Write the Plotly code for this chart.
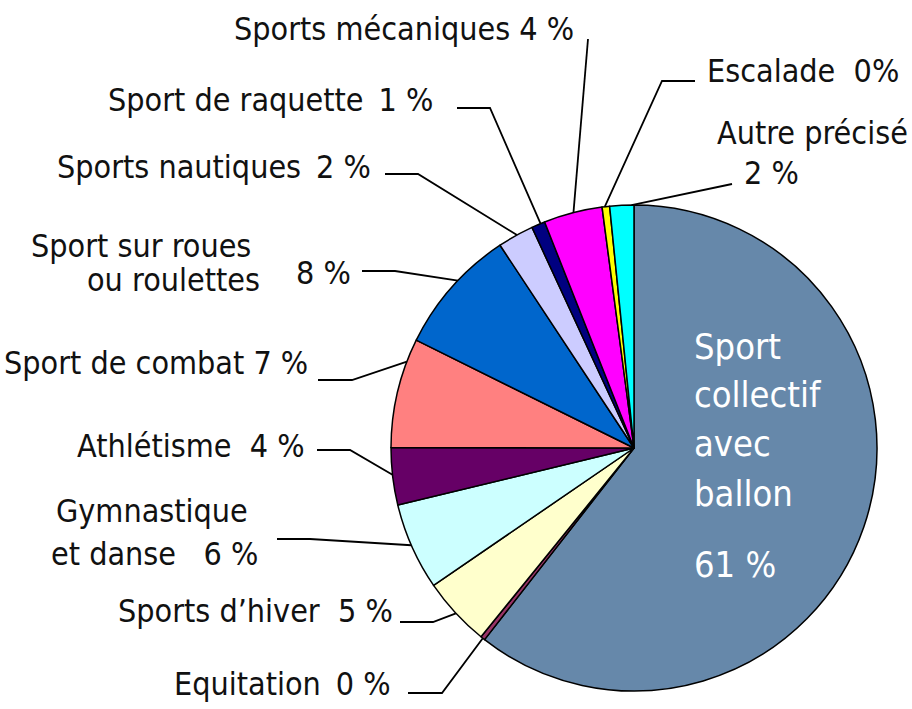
import math
import plotly.graph_objects as go

# ---------------- data ----------------
categories = ["Sport collectif avec ballon", "Equitation", "Sports d\u2019hiver",
              "Gymnastique et danse", "Athl\u00e9tisme", "Sport de combat",
              "Sport sur roues ou roulettes", "Sports nautiques", "Sport de raquette",
              "Sports m\u00e9caniques", "Escalade", "Autre pr\u00e9cis\u00e9"]
values = [60.6, 0.3, 4.6, 5.8, 3.8, 7.3, 8.4, 2.4, 0.9, 3.9, 0.5, 1.6]
colors = ["#6688AA", "#993366", "#FFFFCC", "#CCFFFF", "#660066", "#FF8080",
          "#0066CC", "#CCCCFF", "#000080", "#FF00FF", "#FFFF00", "#00FFFF"]

T = "\u2009"  # thin space
label_lines = [
    ["Sport", "collectif", "avec", "ballon"],
    ["Equitation" + T + " 0 %"],
    ["Sports d\u2019hiver\u00a0 5 %"],
    ["Gymnastique", "et danse\u00a0\u00a0 6 %"],
    ["Athl\u00e9tisme\u00a0 4 %"],
    ["Sport de combat 7 %"],
    ["Sport sur roues", "ou roulettes"],
    ["Sports nautiques" + T + " 2 %"],
    ["Sport de raquette" + T + " 1 %"],
    ["Sports m\u00e9caniques 4 %"],
    ["Escalade\u00a0 0%"],
    ["Autre pr\u00e9cis\u00e9", "2 %"],
]

# ---------------- layout constants (pixels) ----------------
W, H = 912, 709
CX, CY, R = 634, 448, 243
FONT = "DejaVu Sans Condensed, Liberation Sans Narrow, sans-serif"
FS = 32       # outside labels
FS_IN = 36    # text inside the big slice

label_pos = [
    [(692, 346, "left"), (692, 394, "left"), (692, 443, "left"), (692, 493, "left")],
    [(392, 684, "right")],
    [(395, 611, "right")],
    [(152, 511, "center"), (154, 554, "center")],
    [(307, 446, "right")],
    [(310, 363, "right")],
    [(253, 246, "right"), (262, 280, "right")],
    [(373, 167, "right")],
    [(435, 100, "right")],
    [(576, 29, "right")],
    [(705, 71, "left")],
    [(715, 133, "left"), (742, 173, "left")],
]
extra_text = [("8 %", 353, 273, "right", FS, "#111111"),
              ("61 %", 692, 564, "left", FS_IN, "white")]

leader_frac = [None, 0.5, 0.49, 0.52, 0.53, 0.79, 0.57, 0.54, 0.68, 0.51, 0.35, 0.9]
leader_path = [
    None,
    [(442, 693), (408, 693)],
    [(433, 622), (400, 622)],
    [(310, 539), (277, 539)],
    [(350, 450), (317, 450)],
    [(352, 380), (318, 380)],
    [(395, 271), (362, 271)],
    [(418, 174), (385, 174)],
    [(490, 108), (457, 108)],
    [(588, 39)],
    [(662, 81), (695, 81)],
    [(732, 184)],
]

fig = go.Figure()

fig.add_trace(go.Pie(
    labels=categories, values=values, sort=False, direction="clockwise",
    rotation=0, textinfo="none", hoverinfo="label+percent",
    marker=dict(colors=colors, line=dict(color="black", width=1.5)),
    domain=dict(x=[(CX - R) / W, (CX + R) / W], y=[1 - (CY + R) / H, 1 - (CY - R) / H]),
    showlegend=False,
))

total = sum(values)
cum = 0.0
for i, v in enumerate(values):
    start = cum
    cum += v
    if leader_frac[i] is None:
        continue
    theta = math.radians(360.0 * (start + leader_frac[i] * v) / total)
    ax = CX + R * math.sin(theta)
    ay = CY - R * math.cos(theta)
    pts = [(ax, ay)] + leader_path[i]
    fig.add_trace(go.Scatter(
        x=[p[0] for p in pts], y=[p[1] for p in pts], mode="lines",
        line=dict(color="black", width=1.8), hoverinfo="skip", showlegend=False,
    ))

annotations = []
for i, lines in enumerate(label_lines):
    col = "white" if i == 0 else "#111111"
    size = FS_IN if i == 0 else FS
    for txt, (x, y, xa) in zip(lines, label_pos[i]):
        annotations.append(dict(x=x, y=y, xref="x", yref="y", text=txt, showarrow=False,
                                xanchor=xa, yanchor="middle",
                                font=dict(family=FONT, size=size, color=col)))
for txt, x, y, xa, size, col in extra_text:
    annotations.append(dict(x=x, y=y, xref="x", yref="y", text=txt, showarrow=False,
                            xanchor=xa, yanchor="middle",
                            font=dict(family=FONT, size=size, color=col)))

fig.update_layout(
    width=W, height=H, margin=dict(l=0, r=0, t=0, b=0),
    paper_bgcolor="white", plot_bgcolor="rgba(0,0,0,0)",
    xaxis=dict(range=[0, W], visible=False, fixedrange=True, domain=[0, 1]),
    yaxis=dict(range=[H, 0], visible=False, fixedrange=True, domain=[0, 1]),
    annotations=annotations,
)

fig.write_html("out.html", config={"displayModeBar": False},
               post_script="document.body.style.margin='0';document.body.style.overflow='hidden';")
